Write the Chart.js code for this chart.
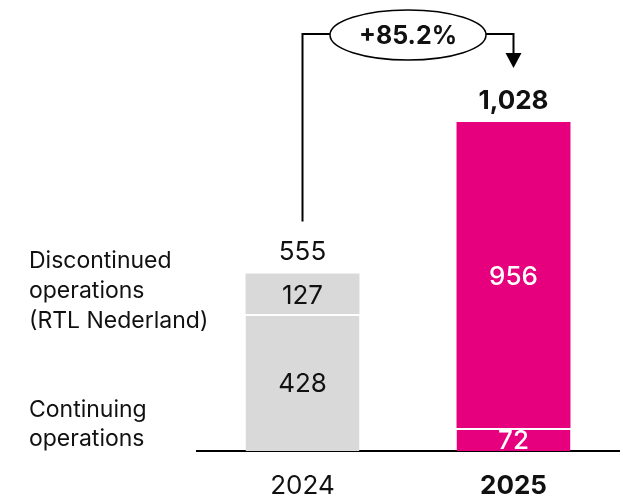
<!DOCTYPE html>
<html>
<head>
<meta charset="utf-8">
<script src="https://cdn.jsdelivr.net/npm/chart.js@4"></script>
<style>
  html, body { margin: 0; padding: 0; background: #fff; }
  #wrap { width: 623px; height: 500px; }
</style>
</head>
<body>
<div id="wrap"><canvas id="chart"></canvas></div>
<script>
// données du graphique
const years = ['2024', '2025'];
const continuing = [428, 72];
const discontinued = [127, 956];
const barColors = ['#d9d9d9', '#e6007e'];
const labelColors = ['#111111', '#ffffff'];
const labelWeights = ['normal', '500'];
const sideLabels = [
  ['Discontinued', 'operations', '(RTL Nederland)'],
  ['Continuing', 'operations']
];

const FONT = 'Inter, "Open Sans", sans-serif';
const totals = years.map((_, i) => continuing[i] + discontinued[i]);
const growth = '+' + ((totals[1] / totals[0] - 1) * 100).toFixed(1) + '%';

// Dessin des étiquettes, du crochet et de la bulle
const annotate = {
  id: 'annotate',
  afterDatasetsDraw(chart) {
    const ctx = chart.ctx;
    const xs = chart.scales.x;
    const ys = chart.scales.y;
    ctx.save();
    ctx.textAlign = 'center';
    ctx.textBaseline = 'middle';

    // valeurs dans les segments
    chart.data.datasets.forEach((ds, di) => {
      chart.getDatasetMeta(di).data.forEach((bar, i) => {
        const p = bar.getProps(['x', 'y', 'base'], true);
        ctx.font = labelWeights[i] + ' 26px ' + FONT;
        ctx.fillStyle = labelColors[i];
        ctx.fillText(ds.data[i], p.x, (p.y + p.base) / 2 + 2);
      });
    });

    // totaux
    totals.forEach((t, i) => {
      ctx.font = (i === 1 ? 'bold ' : '') + '26px ' + FONT;
      ctx.fillStyle = '#111';
      ctx.fillText(t.toLocaleString('en-US'), xs.getPixelForValue(i), ys.getPixelForValue(t) - 21);
    });

    // crochet avec flèche
    const x0 = xs.getPixelForValue(0);
    const x1 = xs.getPixelForValue(1);
    const topY = 34;
    const startY = ys.getPixelForValue(totals[0]) - 52;
    const tipY = ys.getPixelForValue(totals[1]) - 54;
    ctx.strokeStyle = '#000';
    ctx.lineWidth = 2;
    ctx.beginPath();
    ctx.moveTo(x0, startY);
    ctx.lineTo(x0, topY);
    ctx.lineTo(x1, topY);
    ctx.lineTo(x1, tipY - 14);
    ctx.stroke();
    ctx.fillStyle = '#000';
    ctx.beginPath();
    ctx.moveTo(x1 - 8, tipY - 15);
    ctx.lineTo(x1 + 8, tipY - 15);
    ctx.lineTo(x1, tipY);
    ctx.closePath();
    ctx.fill();

    // bulle
    const cx = (x0 + x1) / 2;
    ctx.beginPath();
    ctx.ellipse(cx, topY + 1, 78, 25, 0, 0, Math.PI * 2);
    ctx.fillStyle = '#fff';
    ctx.fill();
    ctx.lineWidth = 1.5;
    ctx.stroke();
    ctx.fillStyle = '#111';
    ctx.font = 'bold 25px ' + FONT;
    ctx.fillText(growth, cx, topY + 2);

    // légendes à gauche
    ctx.textAlign = 'left';
    ctx.font = '23px ' + FONT;
    sideLabels[0].forEach((line, k) => ctx.fillText(line, 29, 261 + k * 30));
    sideLabels[1].forEach((line, k) => ctx.fillText(line, 29, 410 + k * 29));
    ctx.restore();
  }
};

window.onload = () => {
  const ctx = document.getElementById('chart').getContext('2d');
  new Chart(ctx, {
    type: 'bar',
    data: {
      labels: years,
      datasets: [
        {
          label: 'Continuing operations',
          data: continuing,
          backgroundColor: barColors,
          borderColor: '#fff',
          borderWidth: { top: 2, left: 0, right: 0, bottom: 0 },
          borderSkipped: false,
          barPercentage: 0.54,
          categoryPercentage: 1
        },
        {
          label: 'Discontinued operations (RTL Nederland)',
          data: discontinued,
          backgroundColor: barColors,
          borderWidth: 0,
          barPercentage: 0.54,
          categoryPercentage: 1
        }
      ]
    },
    options: {
      responsive: true,
      maintainAspectRatio: false,
      animation: false,
      layout: { padding: { left: 197, right: 4, top: 35, bottom: 0 } },
      plugins: { legend: { display: false }, tooltip: { enabled: false } },
      scales: {
        x: {
          stacked: true,
          grid: { display: false, drawTicks: false },
          border: { display: true, color: '#000', width: 2 },
          afterFit: s => { s.height = 49; },
          ticks: {
            color: '#111',
            padding: 20,
            font: c => ({ family: FONT, size: 26, weight: c.index === 1 ? 'bold' : 'normal' })
          }
        },
        y: {
          stacked: true,
          display: false,
          min: 0,
          max: 1300
        }
      }
    },
    plugins: [annotate]
  });
};
</script>
</body>
</html>
